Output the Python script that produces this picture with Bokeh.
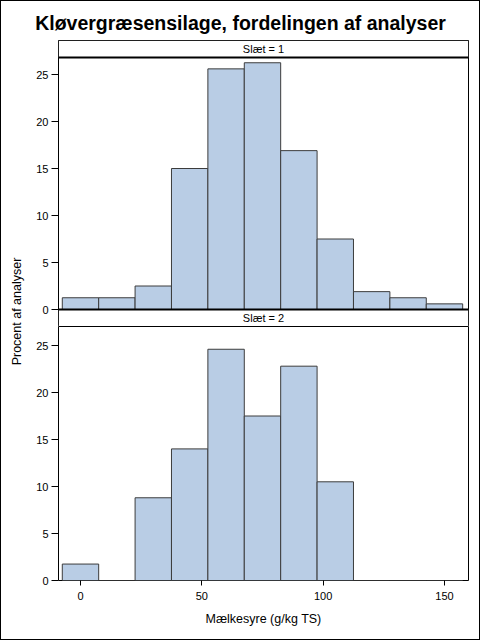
import math
from bokeh.plotting import figure
from bokeh.models import Range1d, FixedTicker, Label, Span
from bokeh.layouts import column, row
from bokeh.embed import file_html
from bokeh.resources import INLINE

# ---- data ----
bin_centers = [0, 15, 30, 45, 60, 75, 90, 105, 120, 135, 150]
bin_width = 15
pct_slaet1 = [1.25, 1.25, 2.5, 15.0, 25.6, 26.25, 16.9, 7.5, 1.9, 1.25, 0.6]
pct_slaet2 = [1.75, 0.0, 8.8, 14.0, 24.6, 17.5, 22.8, 10.5, 0.0, 0.0, 0.0]
panel_labels = ["Slæt = 1", "Slæt = 2"]
x_ticks = [0, 50, 100, 150]
y_ticks = [0, 5, 10, 15, 20, 25]
title_text = "Kløvergræsensilage, fordelingen af analyser"
x_label = "Mælkesyre (g/kg TS)"
y_label = "Procent af analyser"

FONT = "Liberation Sans"
FILL = "#B9CDE5"
EDGE = "#3c3c3c"

X_MIN, X_MAX = -9.06, 159.9
PX_PER_UNIT = 9.4
HEADER_PX = 17
PANEL_PX = 252
PANEL_TOP = PANEL_PX / PX_PER_UNIT
HDR = HEADER_PX / PX_PER_UNIT

TOTAL_W = 478          # inside a 1px page border
LAB_W = 27
W_PANEL = TOTAL_W - LAB_W
BORDER_L = 30
FRAME_W = 410
BORDER_R = W_PANEL - BORDER_L - FRAME_W
TITLE_H = 39
TOP_FRAME = HEADER_PX + PANEL_PX + HEADER_PX
BOT_FRAME = 254
BOT_BORDER = 59


def style_axis_y(p):
    ya = p.yaxis[0]
    ya.ticker = FixedTicker(ticks=y_ticks)
    ya.axis_line_color = None
    ya.major_tick_out = 7
    ya.major_tick_in = 0
    ya.minor_tick_line_color = None
    ya.major_label_standoff = 3
    ya.major_label_text_font = FONT
    ya.major_label_text_font_size = "11px"
    ya.major_label_text_color = "black"
    ya.major_tick_line_color = "black"


def base_fig(height, y_start, y_end, bottom_border, show_x):
    p = figure(width=W_PANEL, height=height, output_backend="svg",
               toolbar_location=None, x_range=Range1d(X_MIN, X_MAX),
               y_range=Range1d(y_start, y_end),
               min_border_left=BORDER_L, min_border_right=BORDER_R,
               min_border_top=0, min_border_bottom=bottom_border,
               x_axis_location="below" if show_x else None)
    p.xgrid.visible = False
    p.ygrid.visible = False
    p.outline_line_color = "black"
    p.outline_line_width = 1
    p.background_fill_color = "white"
    p.border_fill_color = "white"
    style_axis_y(p)
    return p


def bars(p, values):
    left = [c - bin_width / 2 for c in bin_centers]
    right = [c + bin_width / 2 for c in bin_centers]
    p.quad(left=left, right=right, bottom=0, top=values,
           fill_color=FILL, line_color=EDGE, line_width=1)


def header(p, bottom, top, label):
    p.quad(left=[X_MIN], right=[X_MAX], bottom=[bottom], top=[top],
           fill_color="white", line_color="black", line_width=1)
    p.add_layout(Label(x=(X_MIN + X_MAX) / 2, y=(bottom + top) / 2,
                       text=label, text_align="center",
                       text_baseline="middle", text_font=FONT,
                       text_font_size="11px", text_color="black"))


# top figure: header 1, panel 1, header 2
top = base_fig(TOP_FRAME, -HDR, PANEL_TOP + HDR, 0, False)
bars(top, pct_slaet1)
header(top, PANEL_TOP, PANEL_TOP + HDR, panel_labels[0])
header(top, -HDR, 0, panel_labels[1])
top.add_layout(Span(location=PANEL_TOP, dimension="width",
                    line_color="black", line_width=2))
top.add_layout(Span(location=0, dimension="width",
                    line_color="black", line_width=2))

# bottom figure: panel 2 + x axis
bot = base_fig(BOT_FRAME + BOT_BORDER, 0, BOT_FRAME / PX_PER_UNIT,
               BOT_BORDER, True)
bars(bot, pct_slaet2)
xa = bot.xaxis[0]
xa.ticker = FixedTicker(ticks=x_ticks)
xa.axis_line_color = None
xa.major_tick_out = 5
xa.major_tick_in = 0
xa.minor_tick_line_color = None
xa.major_tick_line_color = "black"
xa.major_label_standoff = 6
xa.major_label_text_font = FONT
xa.major_label_text_font_size = "11px"
xa.major_label_text_color = "black"
xa.axis_label = x_label
xa.axis_label_standoff = 9
xa.axis_label_text_font = FONT
xa.axis_label_text_font_size = "12.5px"
xa.axis_label_text_font_style = "normal"
xa.axis_label_text_color = "black"

# title strip
tf = figure(width=TOTAL_W, height=TITLE_H, output_backend="svg",
            toolbar_location=None, x_range=Range1d(0, TOTAL_W),
            y_range=Range1d(0, TITLE_H), min_border=0,
            x_axis_location=None, y_axis_location=None)
tf.outline_line_color = None
tf.xgrid.visible = False
tf.ygrid.visible = False
tf.add_layout(Label(x=TOTAL_W / 2, y=TITLE_H - 21, text=title_text,
                    text_align="center", text_baseline="middle",
                    text_font=FONT, text_font_size="19.5px",
                    text_font_style="bold", text_color="black"))

# y label strip
LH = TOP_FRAME + BOT_FRAME + BOT_BORDER
lf = figure(width=LAB_W, height=LH, output_backend="svg",
            toolbar_location=None, x_range=Range1d(0, LAB_W),
            y_range=Range1d(0, LH), min_border=0,
            x_axis_location=None, y_axis_location=None)
lf.outline_line_color = None
lf.xgrid.visible = False
lf.ygrid.visible = False
lf.add_layout(Label(x=15.5, y=LH - (311 - 1 - TITLE_H), text=y_label,
                    angle=math.pi / 2, text_align="center",
                    text_baseline="middle", text_font=FONT,
                    text_font_size="12.5px", text_color="black"))

layout = column(tf, row(lf, column(top, bot)),
                styles={"border": "1px solid black"})

open("out.html", "w").write(file_html(layout, INLINE))
